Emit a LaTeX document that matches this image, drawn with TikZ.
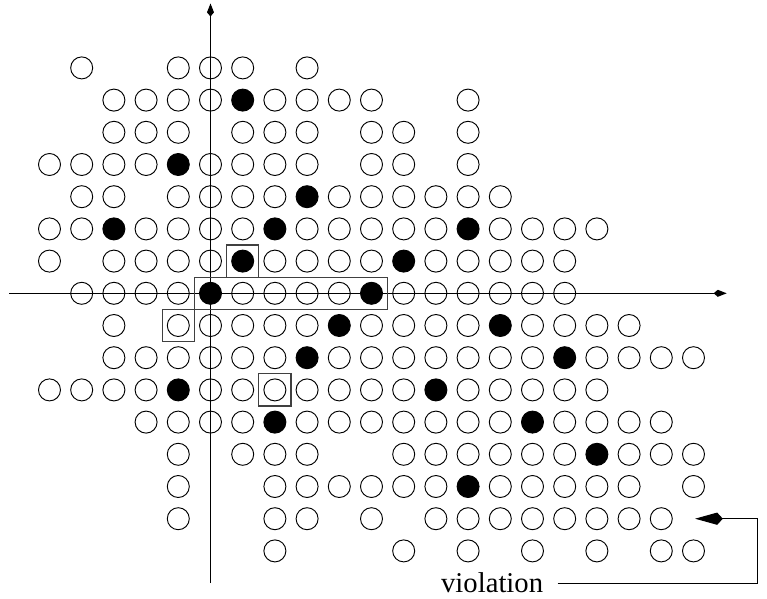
\documentclass[tikz,border=0pt]{standalone}
\usepackage{fontspec}
\setmainfont{Liberation Serif}
\usetikzlibrary{arrows.meta}
\tikzset{
    site/.style={circle,draw,line width=0.5pt,minimum size=4.1mm,inner sep=0pt},
    hit/.style={site,fill=black},
    group/.style={draw=black!75,line width=0.6pt},
    axis/.style={line width=0.55pt,-{Kite[length=6.9pt,width=3.7pt,inset=2.2pt]}},
    flag/.style={line width=0.55pt,-{Kite[length=14.7pt,width=6.5pt,inset=3pt]}},
}
\begin{document}
\begin{tikzpicture}[x=0.6cm,y=0.6cm]
    \useasboundingbox (-6.537,-9.463) rectangle (17.283,9.109);

    % Draw the axis
    \coordinate (xmin) at (-6.25,0);
    \coordinate (xmax) at (16.03,0);
    \coordinate (ymin) at (0,-9);
    \coordinate (ymax) at (0,9);
    \draw[axis] (xmin) -- (xmax);
    \draw[axis] (ymin) -- (ymax);

    % empty sites, row by row
    \foreach \r/\cols in {0/{1,4,5,6,8},
        1/{2,3,4,5,7,8,9,10,13},
        2/{2,3,4,6,7,8,10,11,13},
        3/{0,1,2,3,5,6,7,8,10,11,13},
        4/{1,2,4,5,6,7,9,10,11,12,13,14},
        5/{0,1,3,4,5,6,8,9,10,11,12,14,15,16,17},
        6/{0,2,3,4,5,7,8,9,10,12,13,14,15,16},
        7/{1,2,3,4,6,7,8,9,11,12,13,14,15,16},
        8/{2,4,5,6,7,8,10,11,12,13,15,16,17,18},
        9/{2,3,4,5,6,7,9,10,11,12,13,14,15,17,18,19,20},
        10/{0,1,2,3,5,6,7,8,9,10,11,13,14,15,16,17},
        11/{3,4,5,6,8,9,10,11,12,13,14,16,17,18,19},
        12/{4,6,7,8,11,12,13,14,15,16,18,19,20},
        13/{4,7,8,9,10,11,12,14,15,16,17,18,20},
        14/{4,7,8,10,12,13,14,15,16,17,18,19},
        15/{7,11,13,15,17,19,20}}
        \foreach \c in \cols
            \node[site] (s\c-\r) at (\c-5,7-\r) {};

    % filled sites
    \foreach \c/\r in {6/1,4/3,8/4,2/5,7/5,13/5,6/6,11/6,5/7,10/7,
        9/8,14/8,8/9,16/9,4/10,12/10,7/11,15/11,17/12,13/13}
        \node[hit] (s\c-\r) at (\c-5,7-\r) {};

    % boxes
    \draw[group] (0.5,0.5) rectangle (1.5,1.5);
    \draw[group] (-0.5,-0.5) rectangle (5.5,0.5);
    \draw[group] (-1.5,-1.5) rectangle (-0.5,-0.5);
    \draw[group] (1.5,-3.5) rectangle (2.5,-2.5);

    % violation
    \node[anchor=east,inner xsep=7.5pt,font=\fontsize{15.2}{18}\selectfont] (viol) at (10.78,-9) {violation};
    \coordinate (corner) at (17,-9);
    \coordinate (hole) at (15.05,-7);
    \draw[flag] (viol.east) -- (corner) |- (hole);
\end{tikzpicture}
\end{document}
